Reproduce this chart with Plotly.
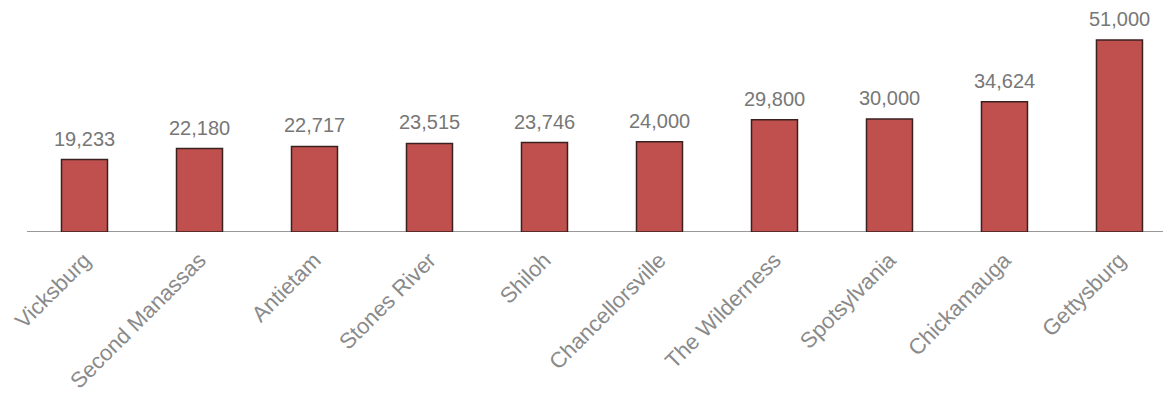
import plotly.graph_objects as go

battles = ["Vicksburg", "Second Manassas", "Antietam", "Stones River", "Shiloh",
           "Chancellorsville", "The Wilderness", "Spotsylvania", "Chickamauga", "Gettysburg"]
casualties = [19233, 22180, 22717, 23515, 23746, 24000, 29800, 30000, 34624, 51000]

FONT = "Liberation Sans, Arial, sans-serif"

fig = go.Figure()
fig.add_trace(go.Bar(
    x=battles, y=casualties, width=0.4,
    marker=dict(color="#c0504d", line=dict(color="#3b2020", width=1.5)),
    hoverinfo="x+y",
))
for b, v in zip(battles, casualties):
    fig.add_annotation(x=b, y=v, text=f"{v:,}", showarrow=False,
                       yanchor="bottom", yshift=8,
                       font=dict(family=FONT, size=20, color="#777777"))
fig.update_layout(
    width=1163, height=392,
    margin=dict(l=19, r=0, t=12, b=168),
    paper_bgcolor="white", plot_bgcolor="white",
    showlegend=False,
    font=dict(family=FONT),
)
fig.update_xaxes(
    range=[-0.5, 9.448], tickangle=-45, automargin=False,
    tickfont=dict(size=22, color="#8a8a8a"),
    showline=False, showgrid=False, ticks="", ticklabelstandoff=10,
)
fig.update_yaxes(
    range=[0, 56312], visible=False, showgrid=False, automargin=False,
)
fig.add_shape(type="line", xref="paper", yref="y", x0=0, x1=1, y0=0, y1=0,
              line=dict(color="#999999", width=2), layer="below")
fig.write_html("out.html")
